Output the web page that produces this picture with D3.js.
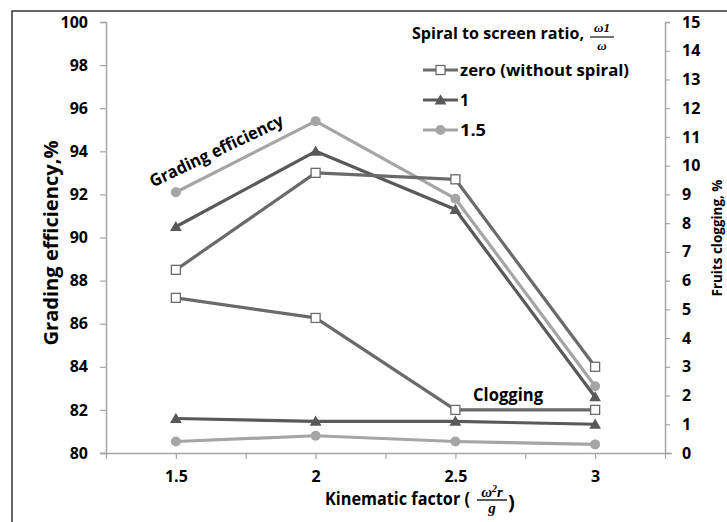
<!DOCTYPE html>
<html>
<head>
<meta charset="utf-8">
<script src="https://cdn.jsdelivr.net/npm/d3@7"></script>
<style>
  html, body { margin: 0; padding: 0; background: #fff; }
  svg { display: block; }
  text { font-family: "Open Sans", Lato, sans-serif; font-weight: bold; fill: #000; }
  .math { font-family: "Liberation Serif", "DejaVu Serif", serif; font-style: italic; font-weight: bold; }
</style>
</head>
<body>
<svg id="chart" width="727" height="522"></svg>
<script>
// ---- data ----
const kinematic = [1.5, 2, 2.5, 3];
const xTickLabels = ["1.5", "2", "2.5", "3"];
const seriesNames = ["zero (without spiral)", "1", "1.5"];
const effZero    = [88.5, 93.0, 92.7, 84.0];
const effOne     = [90.5, 94.0, 91.3, 82.6];
const effOneHalf = [92.1, 95.4, 91.8, 83.1];
const clogZero    = [5.4, 4.7, 1.5, 1.5];
const clogOne     = [1.2, 1.1, 1.1, 1.0];
const clogOneHalf = [0.4, 0.6, 0.4, 0.3];
const leftTicks = d3.range(80, 101, 2);
const rightTicks = d3.range(0, 16, 1);

const svg = d3.select("#chart");
const colors = ["#6a6a6a", "#595959", "#a5a5a5"];
const markers = ["square", "triangle", "circle"];

// outer frame (extends beyond the picture)
svg.append("rect").attr("x", 12).attr("y", 11).attr("width", 800).attr("height", 600)
  .attr("fill", "none").attr("stroke", "#333").attr("stroke-width", 1.5);

const x = d3.scaleLinear().domain([1.25, 3.25]).range([106, 665]);
const yL = d3.scaleLinear().domain([80, 100]).range([453, 22]);
const yR = d3.scaleLinear().domain([0, 15]).range([453, 22]);
const axisColor = "#a6a6a6";

// left axis
const gL = svg.append("g").attr("transform", "translate(106,0)")
  .call(d3.axisLeft(yL).tickValues(leftTicks).tickSize(6).tickPadding(12));
// right axis
const gR = svg.append("g").attr("transform", "translate(665,0)")
  .call(d3.axisRight(yR).tickValues(rightTicks).tickSize(5).tickPadding(12));
// x axis
const gX = svg.append("g").attr("transform", "translate(0,453)")
  .call(d3.axisBottom(x).tickValues(d3.range(1.25, 3.26, 0.25)).tickSize(6).tickPadding(12)
    .tickFormat(d => { const i = kinematic.findIndex(k => Math.abs(k - d) < 1e-6); return i >= 0 ? xTickLabels[i] : ""; }));
[gL, gR, gX].forEach(g => {
  g.select(".domain").attr("stroke", axisColor).attr("stroke-width", 1.5);
  g.selectAll(".tick line").attr("stroke", axisColor).attr("stroke-width", 1.2);
  g.selectAll(".tick text").attr("font-size", 16).attr("font-family", "'Open Sans', sans-serif").attr("font-weight", "bold").attr("fill", "#000");
});
gX.select(".domain").attr("d", "M100,0.5H672");

// series
const effSeries = [effZero, effOne, effOneHalf];
const clogSeries = [clogZero, clogOne, clogOneHalf];
const lineL = d3.line().x((d, i) => x(kinematic[i])).y(d => yL(d));
const lineR = d3.line().x((d, i) => x(kinematic[i])).y(d => yR(d));

function drawMarker(g, type, cx, cy, color) {
  if (type === "square") {
    g.append("rect").attr("x", cx - 4.5).attr("y", cy - 4.5).attr("width", 9).attr("height", 9)
      .attr("fill", "#fff").attr("stroke", color).attr("stroke-width", 1.3);
  } else if (type === "triangle") {
    g.append("path").attr("d", d3.symbol(d3.symbolTriangle, 60)()).attr("transform", `translate(${cx},${cy + 1})`)
      .attr("fill", color);
  } else {
    g.append("circle").attr("cx", cx).attr("cy", cy).attr("r", 5).attr("fill", color);
  }
}

const plot = svg.append("g");
function drawSeries(vals, line, scale, idx) {
  plot.append("path").datum(vals).attr("d", line).attr("fill", "none")
    .attr("stroke", colors[idx]).attr("stroke-width", 3.2).attr("stroke-linejoin", "round");
  vals.forEach((v, i) => drawMarker(plot, markers[idx], x(kinematic[i]), scale(v), colors[idx]));
}
[2, 1, 0].forEach(i => drawSeries(clogSeries[i], lineR, yR, i));
[2, 1, 0].forEach(i => drawSeries(effSeries[i], lineL, yL, i));

// axis titles
svg.append("text").attr("transform", "translate(58,243) rotate(-90)").attr("text-anchor", "middle")
  .attr("font-size", 19).attr("textLength", 205).attr("lengthAdjust", "spacingAndGlyphs").text("Grading efficiency,%");
svg.append("text").attr("transform", "translate(722,238) rotate(-90)").attr("text-anchor", "middle")
  .attr("font-size", 14).attr("textLength", 117).attr("lengthAdjust", "spacingAndGlyphs").text("Fruits clogging, %");

// x title with fraction
svg.append("text").attr("x", 325).attr("y", 505).attr("font-size", 17)
  .attr("textLength", 145).attr("lengthAdjust", "spacingAndGlyphs").text("Kinematic factor (");
const fx = svg.append("g");
fx.append("text").attr("class", "math").attr("x", 492).attr("y", 497).attr("text-anchor", "middle")
  .attr("font-size", 15).html('ω<tspan dy="-5" font-size="10">2</tspan><tspan dy="5">r</tspan>');
fx.append("line").attr("x1", 477).attr("x2", 507).attr("y1", 500).attr("y2", 500).attr("stroke", "#000").attr("stroke-width", 1.3);
fx.append("text").attr("class", "math").attr("x", 492).attr("y", 513).attr("text-anchor", "middle").attr("font-size", 15).text("g");
svg.append("text").attr("x", 508).attr("y", 509).attr("font-size", 20).attr("font-weight", "normal").text(")");

// annotations
svg.append("text").attr("transform", "translate(219,156) rotate(-25.5)").attr("text-anchor", "middle")
  .attr("font-size", 17).attr("textLength", 146).attr("lengthAdjust", "spacingAndGlyphs").text("Grading efficiency");
svg.append("text").attr("x", 473).attr("y", 401).attr("font-size", 17)
  .attr("textLength", 70).attr("lengthAdjust", "spacingAndGlyphs").text("Clogging");

// legend
const lg = svg.append("g");
lg.append("text").attr("x", 412).attr("y", 39).attr("font-size", 16)
  .attr("textLength", 172).attr("lengthAdjust", "spacingAndGlyphs").text("Spiral to screen ratio,");
lg.append("text").attr("class", "math").attr("x", 602).attr("y", 32).attr("text-anchor", "middle").attr("font-size", 13).text("ω1");
lg.append("line").attr("x1", 590).attr("x2", 614).attr("y1", 37).attr("y2", 37).attr("stroke", "#000").attr("stroke-width", 1.1);
lg.append("text").attr("class", "math").attr("x", 602).attr("y", 50).attr("text-anchor", "middle").attr("font-size", 13).text("ω");
const legendY = [70, 100, 130];
const legendW = [169, 9, 26];
seriesNames.forEach((name, i) => {
  const yy = legendY[i];
  lg.append("line").attr("x1", 423).attr("x2", 458).attr("y1", yy).attr("y2", yy)
    .attr("stroke", colors[i]).attr("stroke-width", 3.2);
  drawMarker(lg, markers[i], 440.5, yy, colors[i]);
  lg.append("text").attr("x", 460).attr("y", yy + 6).attr("font-size", 16)
    .attr("textLength", legendW[i]).attr("lengthAdjust", "spacingAndGlyphs").text(name);
});
</script>
</body>
</html>
